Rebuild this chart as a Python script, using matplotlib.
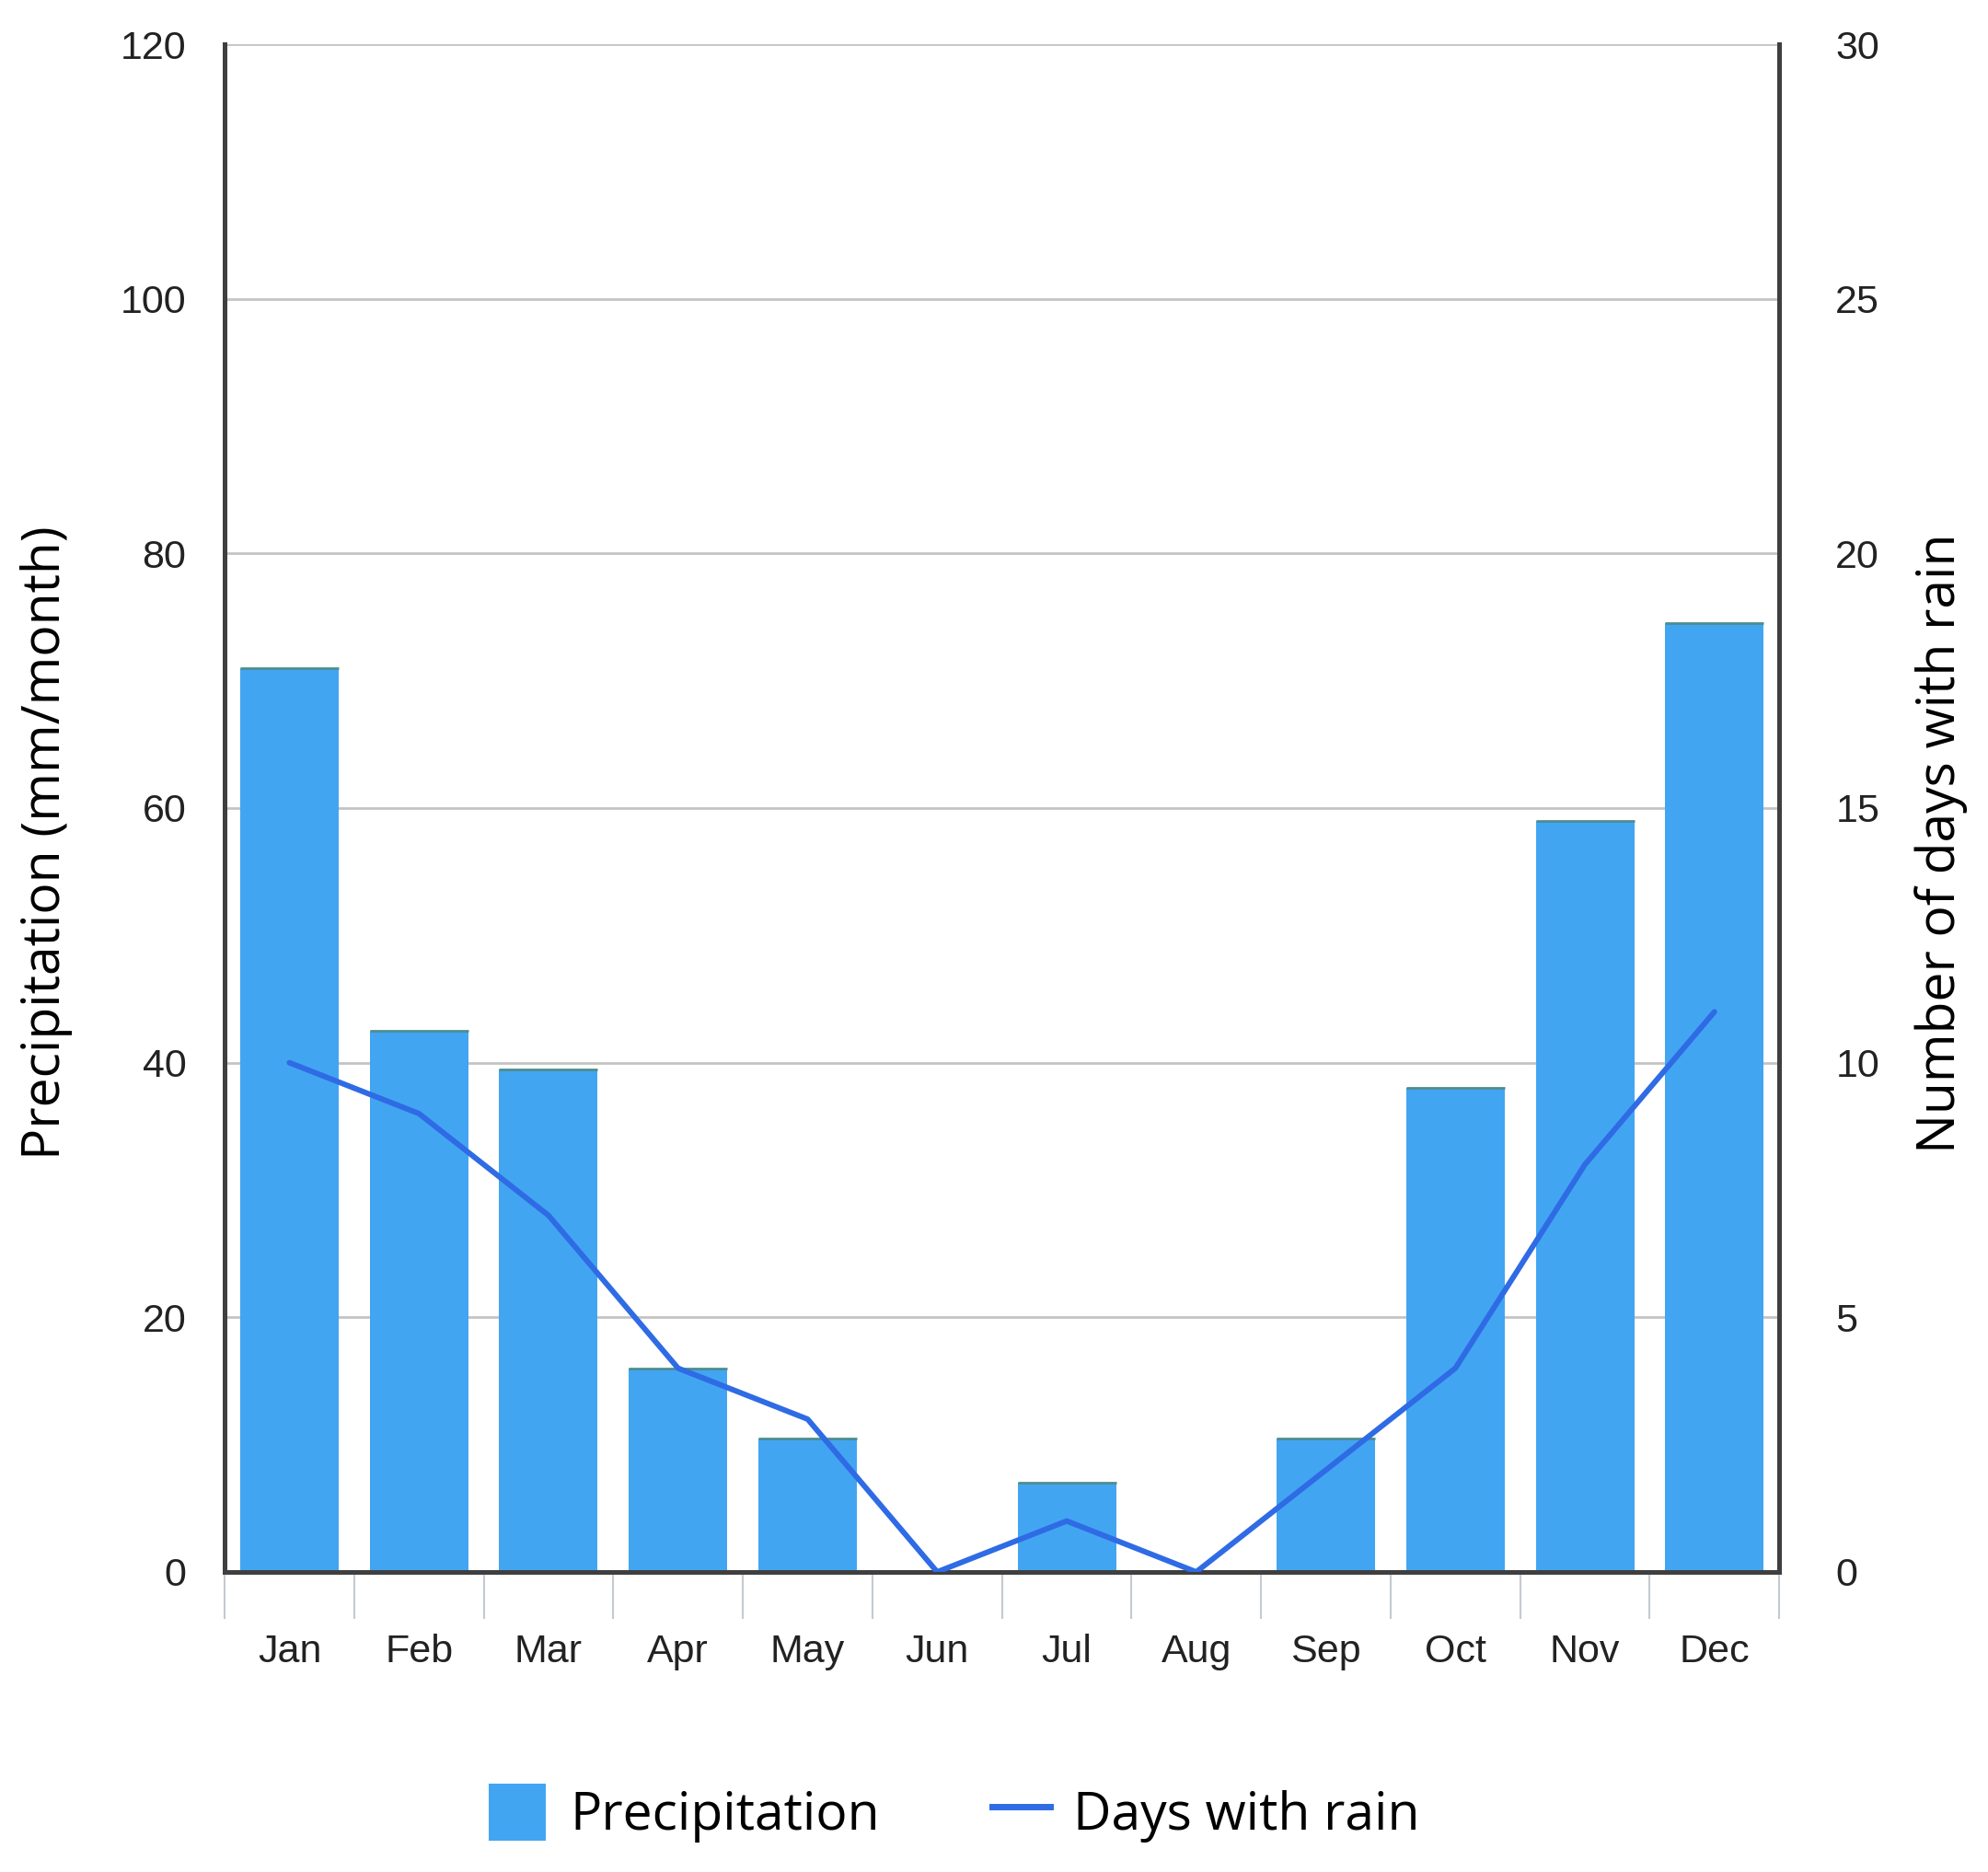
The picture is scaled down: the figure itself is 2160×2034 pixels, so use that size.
import matplotlib
matplotlib.use("Agg")
import matplotlib.pyplot as plt
from matplotlib.patches import Patch
from matplotlib.lines import Line2D
import numpy as np

months = ["Jan", "Feb", "Mar", "Apr", "May", "Jun", "Jul", "Aug", "Sep", "Oct", "Nov", "Dec"]
precipitation = [71, 42.5, 39.5, 16, 10.5, 0, 7, 0, 10.5, 38, 59, 74.5]
days_with_rain = [10, 9, 7, 4, 3, 0, 1, 0, 2, 4, 8, 11]
left_ticks = [0, 20, 40, 60, 80, 100, 120]
right_ticks = [0, 5, 10, 15, 20, 25, 30]

BAR = "#42a5f2"
LINE = "#2f6be4"
AXIS = "#3f3f3f"

tick_font = ["Liberation Sans Narrow", "Liberation Sans", "DejaVu Sans"]
label_font = ["Open Sans", "DejaVu Sans"]

fig = plt.figure(figsize=(21.6, 20.34), dpi=100)
ax = fig.add_axes([0.113, 0.1603, 0.782, 0.8161])
x = np.arange(len(months))

ax.set_xlim(-0.5, len(months) - 0.5)
ax.set_ylim(0, 120)
ax.set_yticks(left_ticks)
ax.grid(axis="y", color="#c4c4c4", linewidth=2.0, zorder=0)
ax.set_axisbelow(True)

ax.bar(x, precipitation, width=0.76, color=BAR, zorder=2)
nz = [i for i, v in enumerate(precipitation) if v > 0]
ax.hlines([precipitation[i] for i in nz], [i - 0.38 for i in nz], [i + 0.38 for i in nz],
          color="#4f8d8f", linewidth=2.0, zorder=3)

ax2 = ax.twinx()
ax2.set_ylim(0, 30)
ax2.set_yticks(right_ticks)
ax2.plot(x, days_with_rain, color=LINE, linewidth=4.3, zorder=5,
         solid_capstyle="round", solid_joinstyle="round")

for a in (ax, ax2):
    a.spines["top"].set_visible(False)
    for s in ("left", "right", "bottom"):
        a.spines[s].set_color(AXIS)
        a.spines[s].set_linewidth(3.6)

ax.tick_params(axis="y", length=0, pad=30, labelsize=31, labelcolor="#222222")
ax2.tick_params(axis="y", length=0, pad=44, labelsize=31, labelcolor="#222222")
for lab in ax.get_yticklabels() + ax2.get_yticklabels():
    lab.set_family(tick_font)

ax.set_xticks(x)
ax.set_xticklabels(months)
ax.set_xticks(np.arange(-0.5, len(months)), minor=True)
ax.tick_params(axis="x", which="major", length=0, pad=48, labelsize=31, labelcolor="#222222")
ax.tick_params(axis="x", which="minor", length=37, width=1.5, color="#c3cad2", direction="out")
for lab in ax.get_xticklabels():
    lab.set_family(tick_font)

ax.set_ylabel("Precipitation (mm/month)", fontsize=41, family=label_font)
ax2.set_ylabel("Number of days with rain", fontsize=41, family=label_font)
ax.yaxis.set_label_coords(-0.098, 0.477)
ax2.yaxis.set_label_coords(1.087, 0.477)

handles = [Patch(facecolor=BAR, edgecolor="none"),
           Line2D([0], [0], color=LINE, linewidth=5)]
fig.legend(handles, ["Precipitation", "Days with rain"], loc="center",
           bbox_to_anchor=(0.48, 0.0315), ncol=2, frameon=False,
           prop={"family": label_font, "size": 41},
           handlelength=1.1, handleheight=1.3, handletextpad=0.45, columnspacing=2.15)

fig.savefig("out.png", dpi=100, facecolor="white")
